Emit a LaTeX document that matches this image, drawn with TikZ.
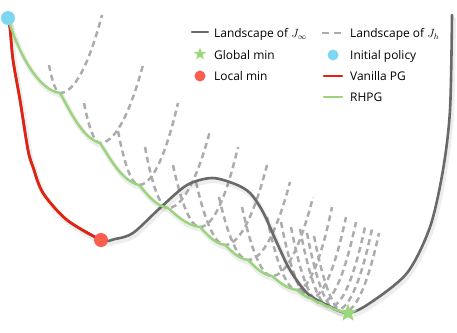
\documentclass[tikz,border=0pt]{standalone}
\usepackage{fontspec}
\setmainfont{Open Sans}
\usetikzlibrary{shapes.geometric}
\definecolor{curvegray}{RGB}{105,105,105}
\definecolor{dashgray}{RGB}{172,172,172}
\definecolor{pgred}{RGB}{232,32,16}
\definecolor{rhgreen}{RGB}{155,212,125}
\definecolor{initblue}{RGB}{125,215,240}
\definecolor{locred}{RGB}{250,95,78}
\definecolor{stargreen}{RGB}{155,215,125}
\tikzset{
  shadowed/.style={preaction={draw=black,opacity=0.07,line width=5bp,transform canvas={shift={(1.5bp,-2.5bp)}}}},
  jinf/.style={draw=curvegray,line width=2.6bp,line cap=round,line join=round},
  landh/.style={draw=dashgray,line width=2.5bp,dash pattern=on 6bp off 4bp},
  vpg/.style={draw=pgred,line width=2.6bp,line cap=round,line join=round},
  rhpg/.style={draw=rhgreen,line width=2.4bp,line cap=round,line join=round},
  lbl/.style={anchor=base west,inner sep=0pt,font=\fontsize{12}{14}\selectfont},
  dotmark/.style={circle,inner sep=0pt,minimum size=#1},
  starmark/.style={star,star points=5,star point ratio=2.4,fill=stargreen,inner sep=0pt,minimum size=#1}
}
\begin{document}
\begin{tikzpicture}[x=1bp,y=-1bp]
\useasboundingbox (0,0) rectangle (457,332);
% landscapes of J_h
\foreach \lx/\ly/\vx/\vy/\rx/\ry in {
  49/65/60/93/102/15,
  84/103/100/143/143/65,
  118/131/139/185/178/103,
  145/147/168/208/210/131,
  173/165/200/227/238/147,
  196/182/225/245/267/165,
  219/197/248/260/290/182,
  242/207/272/276/313/197,
  267/217/297/290/332/207,
  281/222/311/298/346/217,
  291/227/321/303/356/222,
  300/229/330/307/365/227,
  307/233/337/310/372/229,
  314/236/344/312/379/233}
  \draw[landh] (\lx,\ly) parabola bend (\vx,\vy) (\rx,\ry);
% landscape of J_infinity
\draw[jinf,shadowed] plot[smooth,tension=0.5] coordinates {
  (8,18) (10,28) (13,60) (20,100) (28,150) (33,167) (43,193) (67,220) (101,240)
  (115,239) (133,233) (160,208) (187,185) (212,178) (235,184) (250,193) (263,212)
  (277,243) (290,270) (307,293) (327,305) (348,313) (370,303) (407,273) (430,227)
  (443,170) (450,110) (452,15)};
% vanilla PG
\draw[vpg] plot[smooth,tension=0.5] coordinates {
  (8,18) (10,28) (13,60) (20,100) (28,150) (33,167) (43,193) (67,220) (101,240)};
% RHPG
\draw[rhpg,shadowed] (8,18) .. controls (16,46) and (36,90) .. (60,93)
  \foreach \ax/\ay/\bx/\by in {
    60/93/100/143, 100/143/139/185, 139/185/168/208, 168/208/200/227,
    200/227/225/245, 225/245/248/260, 248/260/272/276, 272/276/297/290,
    297/290/311/298, 311/298/321/303, 321/303/330/307, 330/307/337/310,
    337/310/344/312, 344/312/348/313}
  { .. controls ({\ax+0.25*(\bx-\ax)},{\ay+0.35*(\by-\ay)}) and ({\bx-0.45*(\bx-\ax)},{\by-0.1*(\by-\ay)}) .. (\bx,\by) };
% markers
\node[dotmark=14bp,fill=initblue] (init) at (8,18) {};
\node[dotmark=14bp,fill=locred] (locmin) at (101,240) {};
\node[starmark=19bp] (glmin) at (348,313) {};
% legend
\coordinate (ka) at (192,32); \coordinate (kb) at (208,32);
\draw[jinf] (ka) -- (kb);
\node[lbl] (t1) at (214,37.5) {Landscape of \(J_\infty\)};
\node[starmark=13bp] (ks) at (200,54) {};
\node[lbl] (t2) at (214,59.5) {Global min};
\node[dotmark=11bp,fill=locred] (kr) at (200,76) {};
\node[lbl] (t3) at (214,80.5) {Local min};
\coordinate (da) at (322,33); \coordinate (db) at (344,33);
\draw[landh,dash pattern=on 7bp off 5bp] (da) -- (db);
\node[lbl] (t4) at (350,37.5) {Landscape of \(J_h\)};
\node[dotmark=11bp,fill=initblue] (kb2) at (333,55) {};
\node[lbl] (t5) at (350,59.5) {Initial policy};
\coordinate (ra) at (324,76); \coordinate (rb) at (342,76);
\draw[vpg] (ra) -- (rb);
\node[lbl] (t6) at (350,80.5) {Vanilla PG};
\coordinate (ga) at (324,97); \coordinate (gb) at (342,97);
\draw[rhpg] (ga) -- (gb);
\node[lbl] (t7) at (350,101.5) {RHPG};
\end{tikzpicture}
\end{document}
